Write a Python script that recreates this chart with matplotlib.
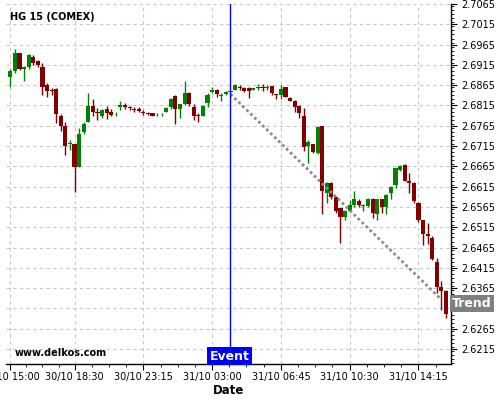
import numpy as np
import matplotlib
matplotlib.use('Agg')
import matplotlib.pyplot as plt
from matplotlib.ticker import FixedLocator, MultipleLocator

# 15-minute candles, HG 15 (COMEX)
opens = [2.6886, 2.6901, 2.6944, 2.6906, 2.6911, 2.6934, 2.6925, 2.6911, 2.6865, 2.6853,
         2.6856, 2.6789, 2.6764, 2.6719, 2.6720, 2.6664, 2.6750, 2.6775, 2.6814, 2.6800,
         2.6790, 2.6806, 2.6798, 2.6793, 2.6812, 2.6815, 2.6811, 2.6807, 2.6806, 2.6800,
         2.6797, 2.6796, 2.6793, 2.6793, 2.6800, 2.6812, 2.6839, 2.6806, 2.6818, 2.6845,
         2.6812, 2.6792, 2.6790, 2.6820, 2.6848, 2.6853, 2.6838, 2.6843, 2.6848, 2.6853,
         2.6860, 2.6859, 2.6859, 2.6853, 2.6858, 2.6861, 2.6858, 2.6862, 2.6843, 2.6842,
         2.6860, 2.6833, 2.6827, 2.6814, 2.6790, 2.6716, 2.6720, 2.6697, 2.6764, 2.6600,
         2.6625, 2.6589, 2.6562, 2.6540, 2.6554, 2.6570, 2.6581, 2.6568, 2.6567, 2.6584,
         2.6548, 2.6584, 2.6566, 2.6600, 2.6619, 2.6655, 2.6669, 2.6630, 2.6625, 2.6576,
         2.6533, 2.6499, 2.6488, 2.6430, 2.6369, 2.6359]
highs = [2.6904, 2.6953, 2.6945, 2.6912, 2.6941, 2.6939, 2.6926, 2.6919, 2.6871, 2.6859,
         2.6857, 2.6794, 2.6774, 2.6730, 2.6720, 2.6759, 2.6775, 2.6845, 2.6830, 2.6809,
         2.6806, 2.6814, 2.6806, 2.6800, 2.6827, 2.6820, 2.6814, 2.6812, 2.6811, 2.6803,
         2.6800, 2.6797, 2.6797, 2.6797, 2.6811, 2.6834, 2.6840, 2.6819, 2.6875, 2.6849,
         2.6818, 2.6796, 2.6817, 2.6845, 2.6861, 2.6856, 2.6845, 2.6850, 2.6852, 2.6867,
         2.6866, 2.6860, 2.6860, 2.6859, 2.6867, 2.6868, 2.6865, 2.6863, 2.6844, 2.6865,
         2.6860, 2.6835, 2.6828, 2.6815, 2.6808, 2.6730, 2.6721, 2.6764, 2.6764, 2.6626,
         2.6626, 2.6590, 2.6563, 2.6557, 2.6582, 2.6604, 2.6585, 2.6572, 2.6587, 2.6587,
         2.6585, 2.6585, 2.6596, 2.6616, 2.6662, 2.6669, 2.6670, 2.6648, 2.6626, 2.6577,
         2.6534, 2.6525, 2.6494, 2.6439, 2.6383, 2.6360]
lows = [2.6860, 2.6894, 2.6902, 2.6875, 2.6904, 2.6915, 2.6911, 2.6841, 2.6835, 2.6841,
        2.6773, 2.6753, 2.6693, 2.6706, 2.6603, 2.6664, 2.6745, 2.6775, 2.6789, 2.6779,
        2.6784, 2.6781, 2.6788, 2.6789, 2.6804, 2.6806, 2.6804, 2.6799, 2.6799, 2.6792,
        2.6792, 2.6788, 2.6790, 2.6790, 2.6799, 2.6806, 2.6769, 2.6784, 2.6816, 2.6813,
        2.6779, 2.6775, 2.6788, 2.6812, 2.6846, 2.6837, 2.6826, 2.6841, 2.6846, 2.6852,
        2.6852, 2.6849, 2.6834, 2.6852, 2.6853, 2.6851, 2.6853, 2.6841, 2.6831, 2.6831,
        2.6835, 2.6826, 2.6800, 2.6784, 2.6704, 2.6673, 2.6699, 2.6695, 2.6548, 2.6574,
        2.6585, 2.6550, 2.6477, 2.6534, 2.6553, 2.6564, 2.6565, 2.6555, 2.6565, 2.6538,
        2.6533, 2.6550, 2.6548, 2.6584, 2.6611, 2.6654, 2.6628, 2.6599, 2.6574, 2.6527,
        2.6471, 2.6473, 2.6435, 2.6354, 2.6312, 2.6291]
closes = [2.6900, 2.6944, 2.6906, 2.6910, 2.6939, 2.6920, 2.6915, 2.6861, 2.6851, 2.6851,
          2.6794, 2.6764, 2.6715, 2.6722, 2.6664, 2.6744, 2.6769, 2.6814, 2.6800, 2.6796,
          2.6804, 2.6796, 2.6791, 2.6795, 2.6816, 2.6811, 2.6809, 2.6804, 2.6802, 2.6796,
          2.6795, 2.6790, 2.6795, 2.6794, 2.6810, 2.6831, 2.6806, 2.6818, 2.6845, 2.6818,
          2.6790, 2.6789, 2.6814, 2.6842, 2.6853, 2.6843, 2.6841, 2.6848, 2.6850, 2.6866,
          2.6857, 2.6851, 2.6851, 2.6857, 2.6861, 2.6859, 2.6861, 2.6847, 2.6842, 2.6856,
          2.6837, 2.6827, 2.6811, 2.6796, 2.6712, 2.6726, 2.6701, 2.6761, 2.6605, 2.6625,
          2.6589, 2.6554, 2.6540, 2.6554, 2.6570, 2.6585, 2.6570, 2.6571, 2.6584, 2.6550,
          2.6584, 2.6566, 2.6595, 2.6615, 2.6660, 2.6665, 2.6630, 2.6625, 2.6581, 2.6533,
          2.6499, 2.6494, 2.6436, 2.6369, 2.6359, 2.6302]

tick_pos = [0, 14, 29, 44, 59, 74, 89]
tick_labels = ['30/10 15:00', '30/10 18:30', '30/10 23:15', '31/10 03:00',
               '31/10 06:45', '31/10 10:30', '31/10 14:15']
event_idx = 47.8
trend_idx = [48, 94]
trend_val = [2.6843, 2.6337]

green = '#008000'
red = '#800000'

fig = plt.figure(figsize=(5, 4), dpi=100)
ax = fig.add_axes([0.012, 0.09, 0.89, 0.90])

o = np.array(opens)
c = np.array(closes)
h = np.array(highs)
l = np.array(lows)
x = np.arange(len(o))
cols = [green if cc >= oo else red for oo, cc in zip(o, c)]

ax.vlines(x, l, h, colors=cols, linewidth=1, zorder=2)
body = np.maximum(np.abs(c - o), 0.00012)
ax.bar(x, body, bottom=np.minimum(o, c), width=0.9, color=cols, linewidth=0, zorder=3)

# trend line
ax.plot(trend_idx, trend_val, color='#8c8c8c', linestyle=(0, (1, 1)), linewidth=2, zorder=4)

# event line
ax.axvline(event_idx, color='#0000ff', linewidth=1, zorder=5)
ax.text(event_idx, 2.6181, 'Event', color='white', fontsize=9, fontweight='bold',
        ha='center', va='bottom', zorder=6,
        bbox=dict(boxstyle='square,pad=0.2', fc='#0000ff', ec='none'))

ax.set_xlim(-0.95, 96.1)
ax.set_ylim(2.61783, 2.7065)

ax.yaxis.tick_right()
ax.yaxis.set_major_locator(FixedLocator(np.round(np.arange(2.6215, 2.7070, 0.005), 4)))
ax.yaxis.set_major_formatter(plt.FuncFormatter(lambda v, p: '%.4f' % v))
ax.yaxis.set_minor_locator(MultipleLocator(0.001))

minors = []
for a, b in zip(tick_pos[:-1], tick_pos[1:]):
    minors += [a + (b - a) * k / 4 for k in (1, 2, 3)]
minors.append(92.75)
ax.xaxis.set_major_locator(FixedLocator(tick_pos))
ax.xaxis.set_minor_locator(FixedLocator(minors))
ax.set_xticklabels(tick_labels)

ax.tick_params(axis='both', which='major', labelsize=7, length=4, color='black')
ax.tick_params(axis='both', which='minor', length=2, color='black')
ax.tick_params(axis='x', pad=2)

ax.grid(True, which='major', linestyle=(0, (3, 3)), color='#c8c8c8', linewidth=0.8)
ax.set_axisbelow(True)

for s in ['top', 'left']:
    ax.spines[s].set_visible(False)
ax.spines['right'].set_linewidth(1)
ax.spines['bottom'].set_linewidth(1)

ax.set_xlabel('Date', fontsize=8.5, fontweight='bold', labelpad=1)

ax.text(0.008, 0.965, 'HG 15 (COMEX)', transform=ax.transAxes, fontsize=7,
        fontweight='bold', ha='left', va='center')
ax.text(0.02, 0.03, 'www.delkos.com', transform=ax.transAxes, fontsize=7,
        fontweight='bold', ha='left', va='center')

# trend label on the price axis
ax.text(1.003, 2.6327, 'Trend', transform=ax.get_yaxis_transform(), color='white',
        fontsize=9, fontweight='bold', ha='left', va='center', zorder=10, clip_on=False,
        bbox=dict(boxstyle='square,pad=0.15', fc='#808080', ec='none'))

fig.savefig('out.png', dpi=100)
